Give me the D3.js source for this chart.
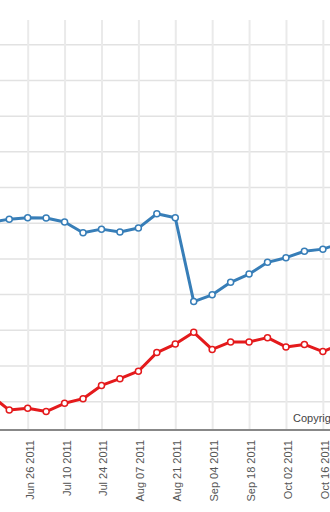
<!DOCTYPE html>
<html>
<head>
<meta charset="utf-8">
<script src="https://d3js.org/d3.v7.min.js"></script>
<style>
  body { margin: 0; background: #fff; }
  svg { display: block; font-family: "Liberation Sans", Arial, sans-serif; }
</style>
</head>
<body>
<div id="chart"></div>
<script>
// Weekly dates (Sundays), the visible window of a larger chart
var dates = ["2011-06-12", "2011-06-19", "2011-06-26", "2011-07-03", "2011-07-10",
             "2011-07-17", "2011-07-24", "2011-07-31", "2011-08-07", "2011-08-14",
             "2011-08-21", "2011-08-28", "2011-09-04", "2011-09-11", "2011-09-18",
             "2011-09-25", "2011-10-02", "2011-10-09", "2011-10-16", "2011-10-23"];

var blueValues = [60.1, 61.0, 61.4, 61.3, 60.2, 57.2, 58.2, 57.4, 58.5, 62.5,
                  61.4, 37.9, 39.8, 43.3, 45.6, 48.9, 50.2, 52.0, 52.6, 54.3];

var redValues = [11.6, 7.5, 8.0, 7.1, 9.4, 10.7, 14.4, 16.3, 18.4, 23.6,
                 26.0, 29.3, 24.5, 26.6, 26.6, 27.8, 25.2, 25.9, 23.9, 26.1];

var tickDates = ["2011-06-26", "2011-07-10", "2011-07-24", "2011-08-07", "2011-08-21",
                 "2011-09-04", "2011-09-18", "2011-10-02", "2011-10-16"];

var yTicks = [10, 20, 30, 40, 50, 60, 70, 80, 90, 100, 110];

var width = 330, height = 512;
var plotTop = 20, plotBottom = 429;

var parse = d3.timeParse("%Y-%m-%d");

var x = d3.scaleTime()
    .domain([parse("2011-06-12"), parse("2011-10-23")])
    .range([-9.2, 341.3]);

var y = d3.scaleLinear()
    .domain([2.2, 116.8])
    .range([plotBottom, plotTop]);

var svg = d3.select("#chart").append("svg")
    .attr("width", width)
    .attr("height", height);

svg.append("clipPath").attr("id", "plot")
  .append("rect")
    .attr("x", 0).attr("y", plotTop - 6)
    .attr("width", width).attr("height", plotBottom - plotTop + 12);

// horizontal grid
var yGrid = svg.append("g")
    .attr("transform", "translate(" + width + ",0)")
    .call(d3.axisLeft(y).tickValues(yTicks).tickSize(width).tickFormat(""));
yGrid.select(".domain").remove();
yGrid.selectAll("line").attr("stroke", "#e2e2e2").attr("stroke-width", 1.5);

// vertical grid
var xGrid = svg.append("g")
    .attr("transform", "translate(0," + plotBottom + ")")
    .call(d3.axisBottom(x).tickValues(tickDates.map(parse))
      .tickSize(-(plotBottom - plotTop)).tickFormat(""));
xGrid.select(".domain").remove();
xGrid.selectAll("line").attr("stroke", "#eaeaea").attr("stroke-width", 2);

// credits text
svg.append("text")
    .attr("x", 293)
    .attr("y", 421.5)
    .attr("fill", "#444")
    .style("font-size", "11px")
    .text("Copyright");

// x axis
var xAxis = svg.append("g")
    .attr("transform", "translate(0," + (plotBottom + 1) + ")")
    .call(d3.axisBottom(x).tickValues(tickDates.map(parse))
      .tickSize(0).tickFormat(d3.timeFormat("%b %d %Y")));
xAxis.select(".domain").remove();
xAxis.selectAll("text")
    .attr("transform", "rotate(-90)")
    .attr("x", -10)
    .attr("y", 0)
    .attr("dy", "0.5em")
    .style("text-anchor", "end")
    .style("font-size", "11px")
    .style("font-family", "Liberation Sans, Arial, sans-serif")
    .attr("fill", "#555");

svg.append("line")
    .attr("x1", 0).attr("x2", width)
    .attr("y1", plotBottom + 1).attr("y2", plotBottom + 1)
    .attr("stroke", "#888")
    .attr("stroke-width", 2);

// series
var series = [
  {name: "blue", color: "#377eb8", values: blueValues},
  {name: "red", color: "#e41a1c", values: redValues}
];

var line = d3.line()
    .x(function(d) { return x(d.date); })
    .y(function(d) { return y(d.value); });

var plot = svg.append("g").attr("clip-path", "url(#plot)");

series.forEach(function(s) {
  var pts = dates.map(function(d, i) { return {date: parse(d), value: s.values[i]}; });

  plot.append("path")
      .datum(pts)
      .attr("fill", "none")
      .attr("stroke", s.color)
      .attr("stroke-width", 3)
      .attr("stroke-linejoin", "round")
      .attr("d", line);

  plot.selectAll(".dot-" + s.name)
      .data(pts)
    .enter().append("circle")
      .attr("class", "dot-" + s.name)
      .attr("cx", function(d) { return x(d.date); })
      .attr("cy", function(d) { return y(d.value); })
      .attr("r", 3)
      .attr("fill", "#fff")
      .attr("stroke", s.color)
      .attr("stroke-width", 1.5);
});
</script>
</body>
</html>
